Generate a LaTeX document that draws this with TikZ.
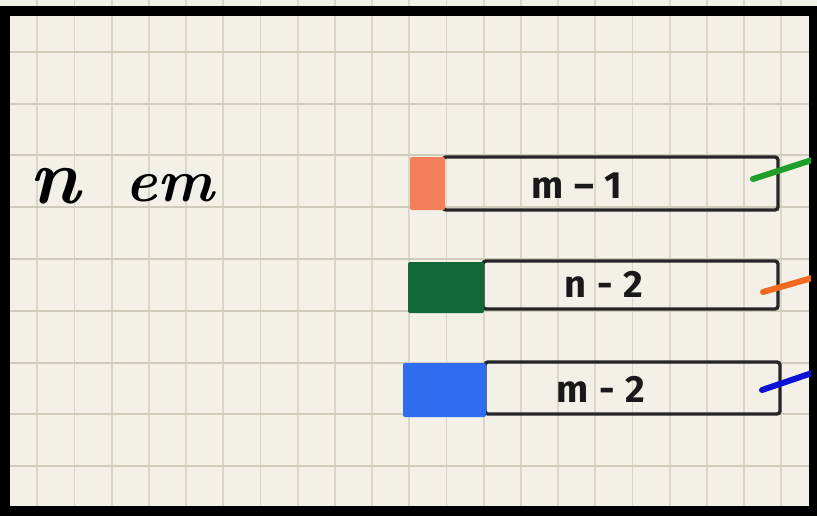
\documentclass[tikz,border=0pt]{standalone}
\usepackage{fontspec}
\setsansfont{Fira Sans}
\definecolor{paper}{HTML}{F3F1E7}
\definecolor{gridv}{HTML}{DAD7C8}
\definecolor{gridh}{HTML}{D0CCBC}
\definecolor{swOrange}{HTML}{F47F58}
\definecolor{swGreen}{HTML}{11693A}
\definecolor{swBlue}{HTML}{2F6CF0}
\definecolor{lnGreen}{HTML}{1F9E2C}
\definecolor{lnOrange}{HTML}{F26A21}
\definecolor{lnBlue}{HTML}{0B12D6}
\tikzset{
  vline/.style={draw=gridv, line width=1.8pt},
  hline/.style={draw=gridh, line width=2pt},
  frameline/.style={draw=black, line width=10pt},
  barbox/.style={draw=black!85, line width=3.4pt, rounded corners=3pt, inner sep=0pt},
  swatch/.style={rounded corners=2pt, inner sep=0pt, draw=none},
  barlabel/.style={font=\sffamily\bfseries\fontsize{38}{38}\selectfont, text=black!90, inner sep=0pt},
  handlabel/.style={font=\bfseries\itshape\fontsize{60}{60}\selectfont, text=black, inner sep=0pt},
  wire/.style={line width=6pt, line cap=round}
}
\begin{document}
\begin{tikzpicture}[x=1pt,y=-1pt]
\useasboundingbox (0,0) rectangle (817,515);
\fill[paper] (0,0) rectangle (817,515);
\foreach \k in {1,...,21} \draw[vline] (37.2*\k,0) -- (37.2*\k,515);
\foreach \k in {1,...,9} \draw[hline] (0,51.8*\k) -- (817,51.8*\k);
\draw[frameline] (5,11) rectangle (814,511);

% bars
\node[barbox, minimum width=335pt, minimum height=53pt] (b1) at (610.5,183.5) {};
\node[barbox, minimum width=295pt, minimum height=48pt] (b2) at (630.5,285) {};
\node[barbox, minimum width=295pt, minimum height=52pt] (b3) at (632.5,388) {};

% swatches
\node[swatch, fill=swOrange, minimum width=35pt, minimum height=53pt] (s1) at (427.5,183.5) {};
\node[swatch, fill=swGreen, minimum width=76pt, minimum height=51pt] (s2) at (446,287.5) {};
\node[swatch, fill=swBlue, minimum width=83pt, minimum height=54pt] (s3) at (444.5,390) {};

% labels
\node[barlabel] (t1) at (577,186) {m\;–\;1};
\node[barlabel] (t2) at (604,284) {n\;-\;2};
\node[barlabel] (t3) at (601,389) {m\;-\;2};
\node[handlabel, scale=1.3] (h1) at (55,186) {n};
\node[handlabel] (h2) at (170,188) {em};

% wires
\coordinate (g1) at (753,179);
\coordinate (g2) at (812,160);
\coordinate (o1) at (763,292);
\coordinate (o2) at (812,278);
\coordinate (u1) at (762,390);
\coordinate (u2) at (812,373);
\draw[wire, lnGreen] (g1) -- (g2);
\draw[wire, lnOrange] (o1) -- (o2);
\draw[wire, lnBlue] (u1) -- (u2);
\draw[draw=black, line width=7pt] (814,6) -- (814,516);
\end{tikzpicture}
\end{document}
